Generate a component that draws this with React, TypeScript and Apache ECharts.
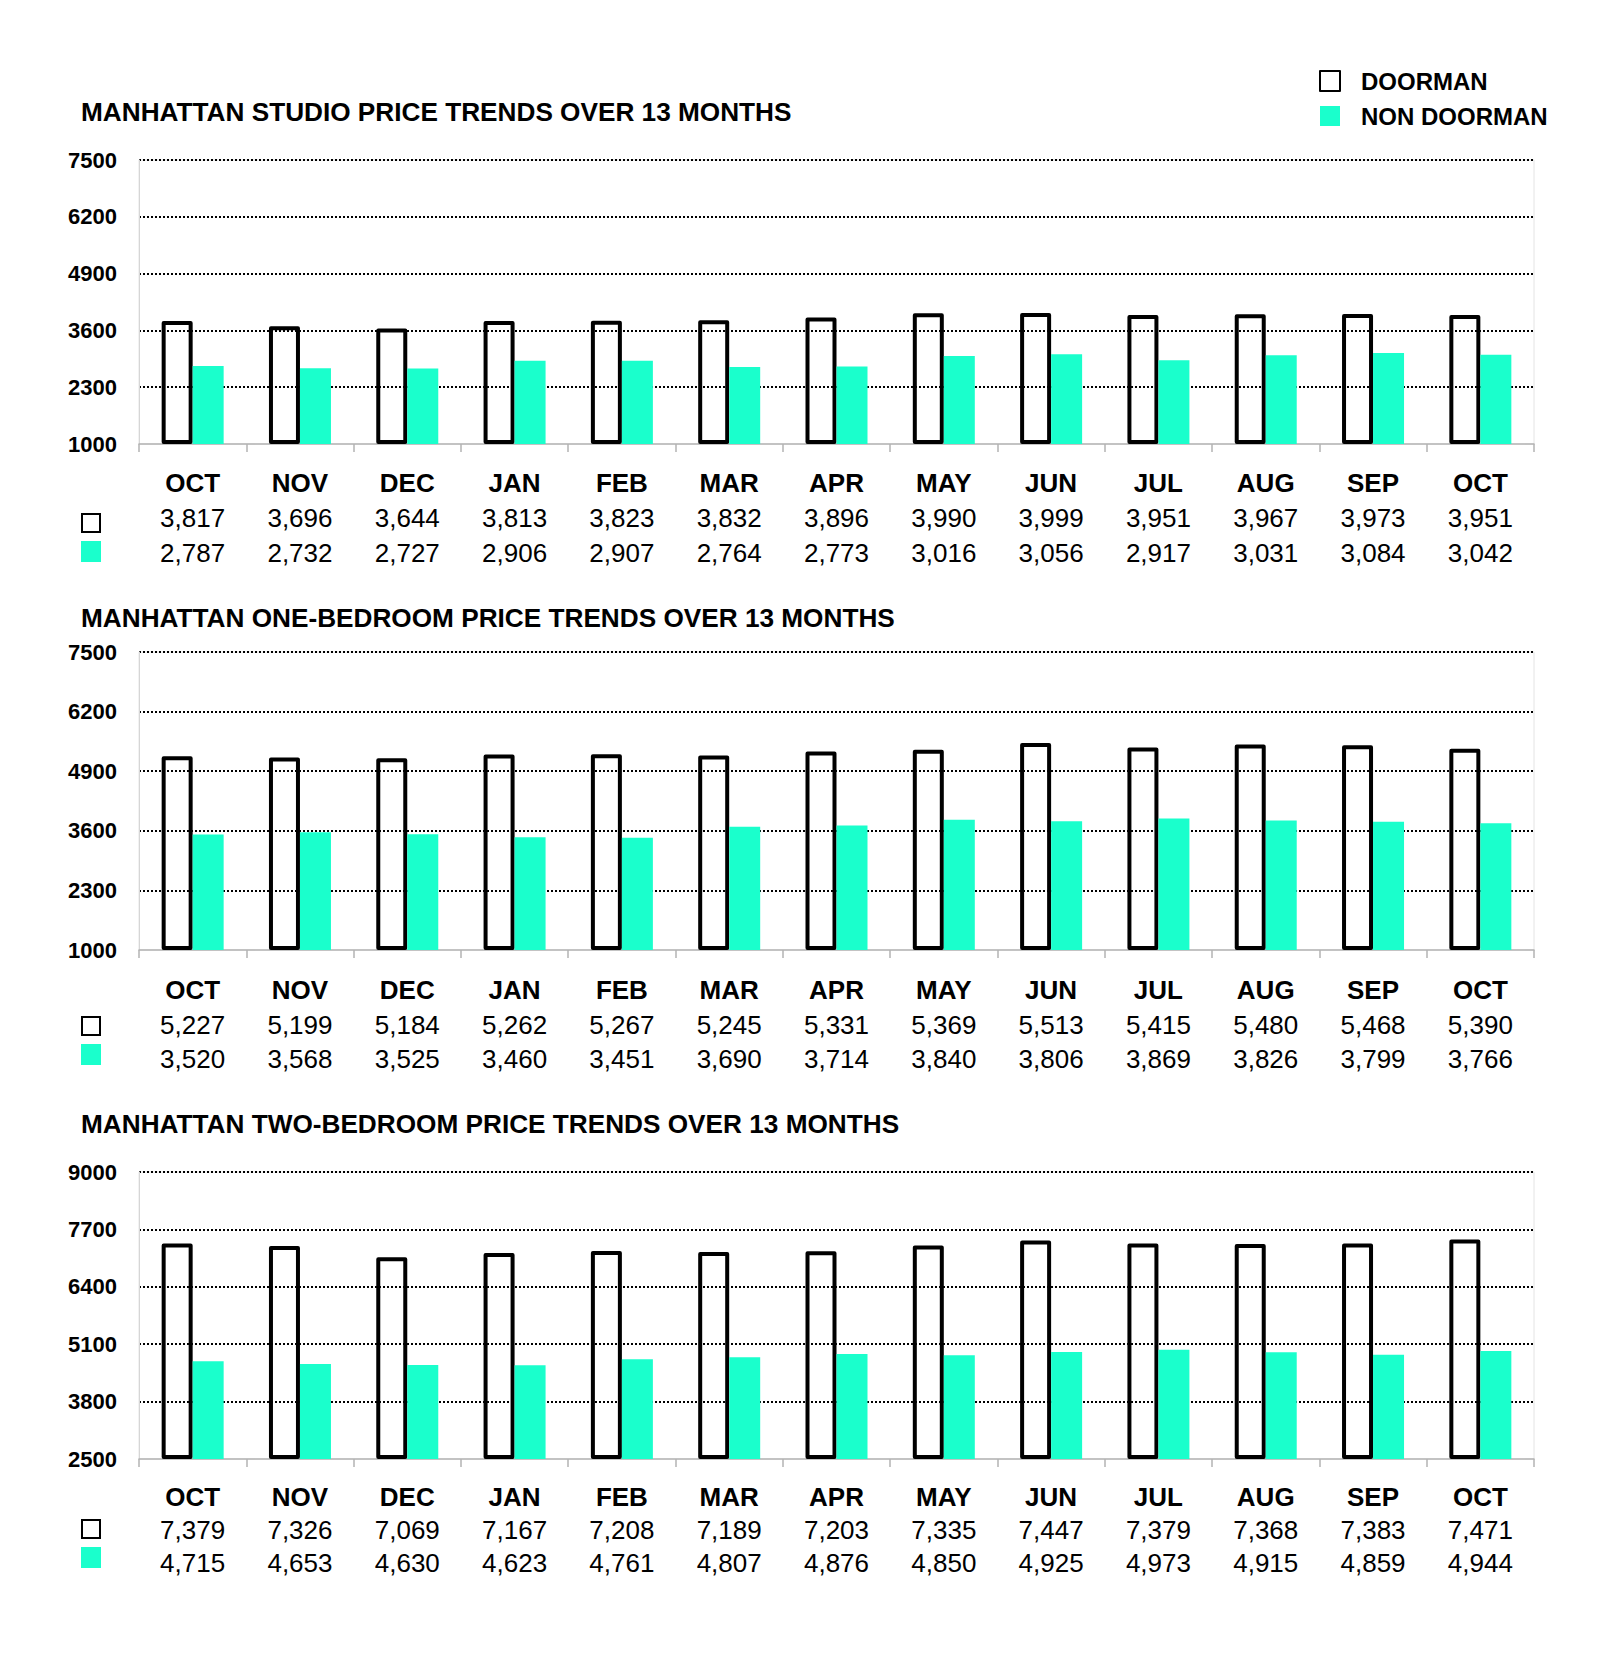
import React, { useEffect, useRef } from "react";
import * as echarts from "echarts";

const months = ["OCT", "NOV", "DEC", "JAN", "FEB", "MAR", "APR", "MAY", "JUN", "JUL", "AUG", "SEP", "OCT"];

const studioDoorman = [3817, 3696, 3644, 3813, 3823, 3832, 3896, 3990, 3999, 3951, 3967, 3973, 3951];
const studioNon = [2787, 2732, 2727, 2906, 2907, 2764, 2773, 3016, 3056, 2917, 3031, 3084, 3042];
const oneBedDoorman = [5227, 5199, 5184, 5262, 5267, 5245, 5331, 5369, 5513, 5415, 5480, 5468, 5390];
const oneBedNon = [3520, 3568, 3525, 3460, 3451, 3690, 3714, 3840, 3806, 3869, 3826, 3799, 3766];
const twoBedDoorman = [7379, 7326, 7069, 7167, 7208, 7189, 7203, 7335, 7447, 7379, 7368, 7383, 7471];
const twoBedNon = [4715, 4653, 4630, 4623, 4761, 4807, 4876, 4850, 4925, 4973, 4915, 4859, 4944];

const titles = [
  "MANHATTAN STUDIO PRICE TRENDS OVER 13 MONTHS",
  "MANHATTAN ONE-BEDROOM PRICE TRENDS OVER 13 MONTHS",
  "MANHATTAN TWO-BEDROOM PRICE TRENDS OVER 13 MONTHS",
];
const yMins = [1000, 1000, 2500];
const yMaxs = [7500, 7500, 9000];
const yInterval = 1300;

const CYAN = "#1affcc";
const FONT = "'Liberation Sans', Arial, Helvetica, sans-serif";

export default function App() {
  const ref = useRef<HTMLDivElement>(null);
  useEffect(() => {
    if (!ref.current) return;
    const chart = echarts.init(ref.current, null, { renderer: "svg" });
    const doorSets = [studioDoorman, oneBedDoorman, twoBedDoorman];
    const nonSets = [studioNon, oneBedNon, twoBedNon];

    const layout = [
      { top: 160, height: 284, titleY: 112, margin: 21, lh: 35, iconD: 514, iconN: 541 },
      { top: 652, height: 298, titleY: 618, margin: 23, lh: 34.5, iconD: 1017, iconN: 1044 },
      { top: 1172, height: 287, titleY: 1124, margin: 21, lh: 33, iconD: 1520, iconN: 1547 },
    ];
    const fmt = (v: number) => v.toLocaleString("en-US");

    const grids = layout.map((l) => ({
      left: 139,
      width: 1395,
      top: l.top,
      height: l.height,
      show: true,
      borderColor: "#e4e4e4",
      borderWidth: 1,
      containLabel: false,
    }));

    const xAxes = layout.map((l, k) => ({
      type: "category",
      gridIndex: k,
      data: months,
      boundaryGap: true,
      axisLine: { show: true, lineStyle: { color: "#b3b3b3", width: 1.5 } },
      axisTick: { show: true, length: 8, lineStyle: { color: "#b3b3b3", width: 1.5 } },
      axisLabel: {
        margin: l.margin,
        interval: 0,
        formatter: (_v: string, i: number) =>
          `{m|${months[i]}}\n{d|${fmt(doorSets[k][i])}}\n{n|${fmt(nonSets[k][i])}}`,
        rich: {
          m: { fontFamily: FONT, fontWeight: "bold", fontSize: 26, color: "#000", lineHeight: l.lh, align: "center" },
          d: { fontFamily: FONT, fontSize: 26, color: "#000", lineHeight: l.lh, align: "center" },
          n: { fontFamily: FONT, fontSize: 26, color: "#000", lineHeight: l.lh, align: "center" },
        },
      },
      splitLine: { show: false },
    }));

    const yAxes = layout.map((l, k) => ({
      type: "value",
      gridIndex: k,
      min: yMins[k],
      max: yMaxs[k],
      interval: yInterval,
      startValue: yMins[k],
      axisLine: { show: true, lineStyle: { color: "#d6d6d6", width: 1 } },
      axisTick: { show: false },
      axisLabel: {
        margin: 22,
        fontFamily: FONT,
        fontWeight: "bold",
        fontSize: 22,
        color: "#000",
        formatter: (v: number) => String(v),
      },
      splitLine: {
        show: true,
        showMinLine: false,
        lineStyle: { color: "#000", width: 2, type: [2, 2] },
      },
    }));

    const series: any[] = [];
    layout.forEach((l, k) => {
      series.push({
        type: "bar",
        name: "DOORMAN",
        xAxisIndex: k,
        yAxisIndex: k,
        data: doorSets[k],
        barWidth: 31,
        barGap: "0%",
        z: 1,
        itemStyle: { color: "rgba(255,255,255,0)", borderColor: "#000", borderWidth: 4, borderJoin: "round" },
        emphasis: { disabled: true },
      });
      series.push({
        type: "bar",
        name: "NON DOORMAN",
        xAxisIndex: k,
        yAxisIndex: k,
        data: nonSets[k],
        barWidth: 31,
        barGap: "0%",
        z: 3,
        itemStyle: { color: CYAN },
        emphasis: { disabled: true },
      });
    });

    const graphics: any[] = [];
    layout.forEach((l, k) => {
      graphics.push({
        type: "text",
        x: 81,
        y: l.titleY,
        style: {
          text: titles[k],
          fill: "#000",
          font: `bold 26.2px ${FONT}`,
          verticalAlign: "middle",
          align: "left",
        },
      });
      graphics.push({
        type: "rect",
        shape: { x: 82, y: l.iconD, width: 18, height: 18 },
        style: { fill: "#fff", stroke: "#000", lineWidth: 2 },
      });
      graphics.push({
        type: "rect",
        shape: { x: 81, y: l.iconN, width: 20, height: 21 },
        style: { fill: CYAN },
      });
    });

    chart.setOption({
      animation: false,
      backgroundColor: "#fff",
      legend: {
        orient: "vertical",
        left: 1319,
        top: 69,
        padding: 0,
        itemWidth: 20,
        itemHeight: 20,
        itemGap: 11,
        icon: "rect",
        selectedMode: false,
        data: [
          { name: "DOORMAN", itemStyle: { color: "#fff", borderColor: "#000", borderWidth: 2 } },
          { name: "NON DOORMAN", itemStyle: { color: CYAN } },
        ],
        textStyle: {
          fontFamily: FONT,
          fontWeight: "bold",
          fontSize: 24,
          color: "#000",
          padding: [0, 0, 0, 16],
        },
      },
      grid: grids,
      xAxis: xAxes,
      yAxis: yAxes,
      series,
      graphic: graphics,
    });
    return () => chart.dispose();
  }, []);
  return (
    <div
      ref={ref}
      style={{ position: "absolute", left: 0, top: 0, width: 1600, height: 1653, background: "#fff" }}
    />
  );
}
